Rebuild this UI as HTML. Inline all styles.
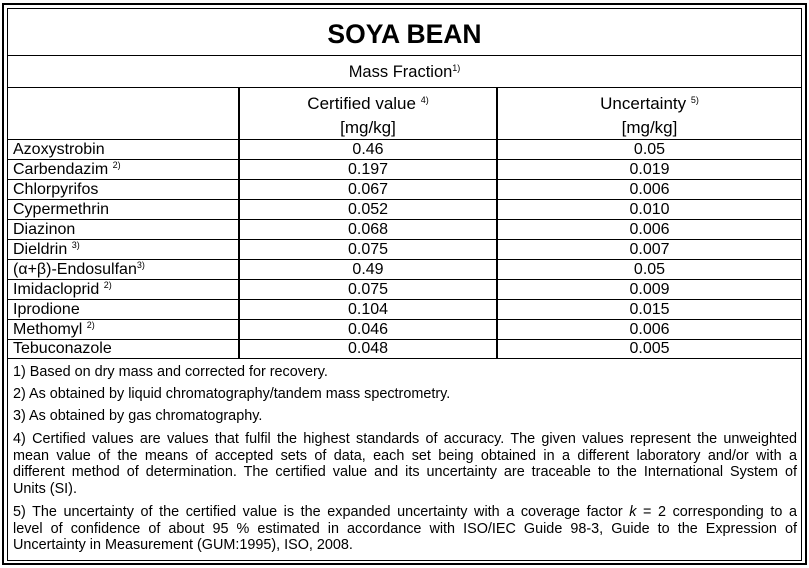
<!DOCTYPE html>
<html><head><meta charset="utf-8"><style>
body{margin:0;width:809px;height:568px;background:#fff;position:relative;font-family:"Liberation Sans",Arial,sans-serif;color:#000;overflow:hidden}
.a{position:absolute}
.h{position:absolute;height:0;border-top:1.5px solid #000}
.v{position:absolute;width:0;border-left:2px solid #000}
.c{position:absolute;text-align:center;font-size:16px;line-height:20px}
.n{position:absolute;left:13px;font-size:16px;line-height:20px}
sup{font-size:9px;vertical-align:0;position:relative;top:-6px}
.f{position:absolute;left:13px;width:784px;font-size:14.4px;line-height:16.5px;white-space:nowrap}
.j{text-align:justify;text-align-last:justify;white-space:normal}
</style></head><body>
<div class="a" style="left:2px;top:3px;width:801px;height:558px;border:2px solid #000"></div>
<div class="a" style="left:7px;top:8px;width:793px;height:551px;border:1.5px solid #000"></div>
<div class="h" style="left:7px;width:795px;top:55px"></div>
<div class="h" style="left:7px;width:795px;top:87px"></div>
<div class="h" style="left:7px;width:795px;top:139px"></div>
<div class="v" style="left:238px;top:88px;height:271px"></div>
<div class="v" style="left:496px;top:88px;height:271px"></div>
<div class="h" style="left:7px;width:795px;top:159px"></div>
<div class="h" style="left:7px;width:795px;top:179px"></div>
<div class="h" style="left:7px;width:795px;top:199px"></div>
<div class="h" style="left:7px;width:795px;top:219px"></div>
<div class="h" style="left:7px;width:795px;top:239px"></div>
<div class="h" style="left:7px;width:795px;top:259px"></div>
<div class="h" style="left:7px;width:795px;top:279px"></div>
<div class="h" style="left:7px;width:795px;top:299px"></div>
<div class="h" style="left:7px;width:795px;top:319px"></div>
<div class="h" style="left:7px;width:795px;top:339px"></div>
<div class="h" style="left:7px;width:795px;top:358px"></div>
<div class="c" style="left:7px;width:795px;top:18px;font-size:26.5px;line-height:32px;font-weight:bold">SOYA BEAN</div>
<div class="c" style="left:7px;width:795px;top:62px;font-size:16.5px">Mass Fraction<sup>1)</sup></div>
<div class="c" style="left:239px;width:258px;top:93px;line-height:21px;font-size:17px">Certified value <sup>4)</sup><br>[mg/kg]</div>
<div class="c" style="left:497px;width:305px;top:93px;line-height:21px;font-size:17px">Uncertainty <sup>5)</sup><br>[mg/kg]</div>

<div class="n" style="top:140px">Azoxystrobin</div><div class="c" style="left:239px;width:258px;top:140px">0.46</div><div class="c" style="left:497px;width:305px;top:140px">0.05</div>
<div class="n" style="top:160px">Carbendazim <sup>2)</sup></div><div class="c" style="left:239px;width:258px;top:160px">0.197</div><div class="c" style="left:497px;width:305px;top:160px">0.019</div>
<div class="n" style="top:180px">Chlorpyrifos</div><div class="c" style="left:239px;width:258px;top:180px">0.067</div><div class="c" style="left:497px;width:305px;top:180px">0.006</div>
<div class="n" style="top:200px">Cypermethrin</div><div class="c" style="left:239px;width:258px;top:200px">0.052</div><div class="c" style="left:497px;width:305px;top:200px">0.010</div>
<div class="n" style="top:220px">Diazinon</div><div class="c" style="left:239px;width:258px;top:220px">0.068</div><div class="c" style="left:497px;width:305px;top:220px">0.006</div>
<div class="n" style="top:240px">Dieldrin <sup>3)</sup></div><div class="c" style="left:239px;width:258px;top:240px">0.075</div><div class="c" style="left:497px;width:305px;top:240px">0.007</div>
<div class="n" style="top:260px">(α+β)-Endosulfan<sup>3)</sup></div><div class="c" style="left:239px;width:258px;top:260px">0.49</div><div class="c" style="left:497px;width:305px;top:260px">0.05</div>
<div class="n" style="top:280px">Imidacloprid <sup>2)</sup></div><div class="c" style="left:239px;width:258px;top:280px">0.075</div><div class="c" style="left:497px;width:305px;top:280px">0.009</div>
<div class="n" style="top:300px">Iprodione</div><div class="c" style="left:239px;width:258px;top:300px">0.104</div><div class="c" style="left:497px;width:305px;top:300px">0.015</div>
<div class="n" style="top:320px">Methomyl <sup>2)</sup></div><div class="c" style="left:239px;width:258px;top:320px">0.046</div><div class="c" style="left:497px;width:305px;top:320px">0.006</div>
<div class="n" style="top:339px">Tebuconazole</div><div class="c" style="left:239px;width:258px;top:339px">0.048</div><div class="c" style="left:497px;width:305px;top:339px">0.005</div>

<div class="f" style="top:364px">1) Based on dry mass and corrected for recovery.</div>
<div class="f" style="top:386px">2) As obtained by liquid chromatography/tandem mass spectrometry.</div>
<div class="f" style="top:408px">3) As obtained by gas chromatography.</div>
<div class="f j" style="top:431px">4) Certified values are values that fulfil the highest standards of accuracy. The given values represent the unweighted</div>
<div class="f j" style="top:447.5px">mean value of the means of accepted sets of data, each set being obtained in a different laboratory and/or with a</div>
<div class="f j" style="top:464px">different method of determination. The certified value and its uncertainty are traceable to the International System of</div>
<div class="f" style="top:480.5px">Units (SI).</div>
<div class="f j" style="top:504px">5) The uncertainty of the certified value is the expanded uncertainty with a coverage factor <i>k</i> = 2 corresponding to a</div>
<div class="f j" style="top:520.5px">level of confidence of about 95 % estimated in accordance with ISO/IEC Guide 98-3, Guide to the Expression of</div>
<div class="f" style="top:537px">Uncertainty in Measurement (GUM:1995), ISO, 2008.</div>
</body></html>
